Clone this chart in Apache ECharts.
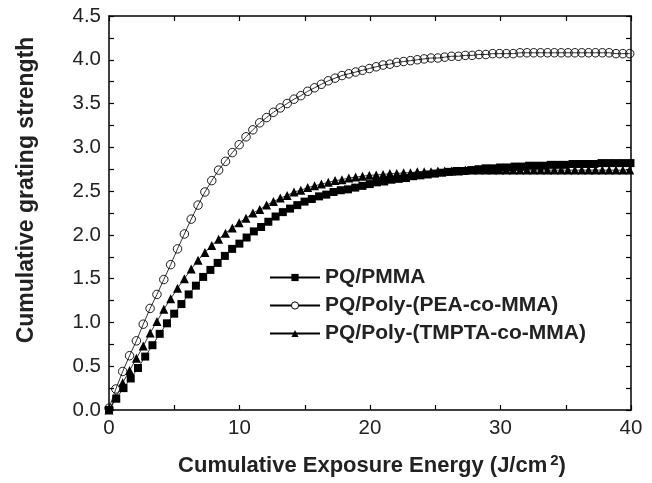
<!DOCTYPE html>
<html>
<head>
<meta charset="utf-8">
<script src="https://cdn.jsdelivr.net/npm/echarts@6/dist/echarts.min.js"></script>
<style>
  html, body { margin: 0; padding: 0; background: #fff; }
  #chart { width: 652px; height: 483px; }
</style>
</head>
<body>
<div id="chart"></div>
<script>
  // exposure energy (J/cm2) for PEA and TMPTA samples
  var energyA = [0, 0.525, 1.05, 1.575, 2.1, 2.625, 3.15, 3.675, 4.2, 4.725,
    5.25, 5.775, 6.3, 6.825, 7.35, 7.875, 8.4, 8.925, 9.45, 9.975,
    10.5, 11.025, 11.55, 12.075, 12.6, 13.125, 13.65, 14.175, 14.7, 15.225,
    15.75, 16.275, 16.8, 17.325, 17.85, 18.375, 18.9, 19.425, 19.95, 20.475,
    21, 21.525, 22.05, 22.575, 23.1, 23.625, 24.15, 24.675, 25.2, 25.725,
    26.25, 26.775, 27.3, 27.825, 28.35, 28.875, 29.4, 29.925, 30.45, 30.975,
    31.5, 32.025, 32.55, 33.075, 33.6, 34.125, 34.65, 35.175, 35.7, 36.225,
    36.75, 37.275, 37.8, 38.325, 38.85, 39.375, 39.9]
  // exposure energy (J/cm2) for PMMA sample
  var energyB = [0, 0.555, 1.11, 1.665, 2.22, 2.775, 3.33, 3.885, 4.44, 4.995,
    5.55, 6.105, 6.66, 7.215, 7.77, 8.325, 8.88, 9.435, 9.99, 10.545,
    11.1, 11.655, 12.21, 12.765, 13.32, 13.875, 14.43, 14.985, 15.54, 16.095,
    16.65, 17.205, 17.76, 18.315, 18.87, 19.425, 19.98, 20.535, 21.09, 21.645,
    22.2, 22.755, 23.31, 23.865, 24.42, 24.975, 25.53, 26.085, 26.64, 27.195,
    27.75, 28.305, 28.86, 29.415, 29.97, 30.525, 31.08, 31.635, 32.19, 32.745,
    33.3, 33.855, 34.41, 34.965, 35.52, 36.075, 36.63, 37.185, 37.74, 38.295,
    38.85, 39.405, 39.96]

  var pmma = [0.0, 0.13, 0.25, 0.36, 0.48, 0.61, 0.74, 0.87, 0.99, 1.10,
    1.21, 1.32, 1.42, 1.52, 1.60, 1.68, 1.76, 1.84, 1.90, 1.97,
    2.04, 2.09, 2.15, 2.21, 2.26, 2.30, 2.34, 2.38, 2.41, 2.44,
    2.46, 2.49, 2.51, 2.52, 2.54, 2.56, 2.58, 2.60, 2.61, 2.63,
    2.64, 2.65, 2.67, 2.68, 2.69, 2.70, 2.71, 2.72, 2.73, 2.73,
    2.74, 2.75, 2.76, 2.76, 2.77, 2.77, 2.78, 2.78, 2.79, 2.79,
    2.79, 2.80, 2.80, 2.80, 2.81, 2.81, 2.81, 2.81, 2.82, 2.82,
    2.82, 2.82, 2.82]
  var pea = [0.02, 0.24, 0.44, 0.62, 0.79, 0.98, 1.16, 1.32, 1.49, 1.66,
    1.84, 2.01, 2.18, 2.34, 2.49, 2.62, 2.74, 2.84, 2.94, 3.03,
    3.12, 3.20, 3.28, 3.34, 3.40, 3.45, 3.50, 3.55, 3.59, 3.64,
    3.68, 3.72, 3.76, 3.79, 3.82, 3.84, 3.86, 3.88, 3.90, 3.92,
    3.94, 3.95, 3.97, 3.98, 3.99, 4.00, 4.01, 4.02, 4.02, 4.03,
    4.04, 4.04, 4.05, 4.05, 4.06, 4.06, 4.07, 4.07, 4.07, 4.07,
    4.08, 4.08, 4.08, 4.08, 4.08, 4.08, 4.08, 4.08, 4.08, 4.08,
    4.08, 4.08, 4.08, 4.08, 4.07, 4.07, 4.07]
  var tmpta = [0.0, 0.14, 0.31, 0.45, 0.59, 0.73, 0.88, 1.01, 1.15, 1.27,
    1.39, 1.50, 1.61, 1.71, 1.80, 1.88, 1.95, 2.02, 2.08, 2.14,
    2.19, 2.25, 2.29, 2.34, 2.38, 2.42, 2.45, 2.49, 2.51, 2.54,
    2.56, 2.58, 2.60, 2.62, 2.63, 2.65, 2.66, 2.67, 2.68, 2.685,
    2.69, 2.70, 2.70, 2.71, 2.71, 2.72, 2.72, 2.72, 2.73, 2.73,
    2.73, 2.73, 2.74, 2.74, 2.74, 2.74, 2.74, 2.74, 2.74, 2.74,
    2.74, 2.74, 2.74, 2.74, 2.74, 2.74, 2.74, 2.74, 2.74, 2.74,
    2.74, 2.74, 2.74, 2.74, 2.74, 2.74, 2.74]

  var names = ['PQ/PMMA', 'PQ/Poly-(PEA-co-MMA)', 'PQ/Poly-(TMPTA-co-MMA)']

  function pairs (xs, ys) {
    return xs.map(function (x, i) { return [x, ys[i]] })
  }

  var font = 'Liberation Sans, Arial, sans-serif'
  var axisLine = {show: true, onZero: false, lineStyle: {color: '#000', width: 1.5}}
  var tick = {show: true, inside: true, length: 5, lineStyle: {color: '#000', width: 1.2}}
  var minor = {show: true, splitNumber: 2, length: 5, lineStyle: {color: '#000', width: 1.2}}

  function axisBase (pos, min, max, interval, labels) {
    return {
      type: 'value',
      position: pos,
      min: min,
      max: max,
      interval: interval,
      axisLine: axisLine,
      axisTick: tick,
      minorTick: minor,
      splitLine: {show: false},
      axisLabel: {
        show: labels,
        fontFamily: font,
        fontSize: 20.5,
        color: '#222',
        margin: 8,
        formatter: function (v) { return interval < 1 ? v.toFixed(1) : String(v) }
      }
    }
  }

  var chart = echarts.init(document.getElementById('chart'))
  chart.setOption({
    animation: false,
    grid: {left: 109, right: 21, top: 16, bottom: 73},
    xAxis: [axisBase('bottom', 0, 40, 10, true), axisBase('top', 0, 40, 10, false)],
    yAxis: [axisBase('left', 0, 4.5, 0.5, true), axisBase('right', 0, 4.5, 0.5, false)],
    legend: {
      orient: 'vertical',
      left: 264,
      top: 261,
      itemWidth: 50,
      itemHeight: 9,
      itemGap: 5,
      textStyle: {fontFamily: font, fontSize: 21, fontWeight: 'bold', color: '#222', lineHeight: 23},
      data: [
        {name: names[0]},
        {name: names[1], itemStyle: {color: '#fff', borderColor: '#000', borderWidth: 1}},
        {name: names[2]}
      ]
    },
    graphic: [
      {
        type: 'text',
        x: 372,
        y: 466,
        style: {
          rich: {
            a: {fontFamily: font, fontSize: 22, fontWeight: 'bold', fill: '#222'},
            s: {fontFamily: font, fontSize: 15, fontWeight: 'bold', fill: '#222', verticalAlign: 'top', padding: [0, 0, 10, 3]}
          },
          text: '{a|Cumulative Exposure Energy (J/cm}{s|2}{a|)}',
          align: 'center',
          verticalAlign: 'middle'
        }
      },
      {
        type: 'text',
        x: 27,
        y: 190,
        rotation: Math.PI / 2,
        style: {
          text: 'Cumulative grating strength',
          fontFamily: font,
          fontSize: 23,
          fontWeight: 'bold',
          fill: '#222',
          align: 'center',
          verticalAlign: 'middle'
        }
      }
    ],
    series: [
      {
        name: names[0],
        type: 'line',
        z: 4,
        data: pairs(energyB, pmma),
        symbol: 'rect',
        symbolSize: 8,
        lineStyle: {color: '#000', width: 0.8},
        itemStyle: {color: '#000'}
      },
      {
        name: names[1],
        type: 'line',
        z: 2,
        data: pairs(energyA, pea),
        symbol: 'circle',
        symbolSize: 8.5,
        showAllSymbol: true,
        lineStyle: {color: '#000', width: 0.8},
        itemStyle: {color: 'rgba(0,0,0,0)', borderColor: '#000', borderWidth: 0.9}
      },
      {
        name: names[2],
        type: 'line',
        z: 3,
        data: pairs(energyA, tmpta),
        symbol: 'triangle',
        symbolSize: 9,
        lineStyle: {color: '#000', width: 0.8},
        itemStyle: {color: '#000'}
      }
    ]
  })
</script>
</body>
</html>
